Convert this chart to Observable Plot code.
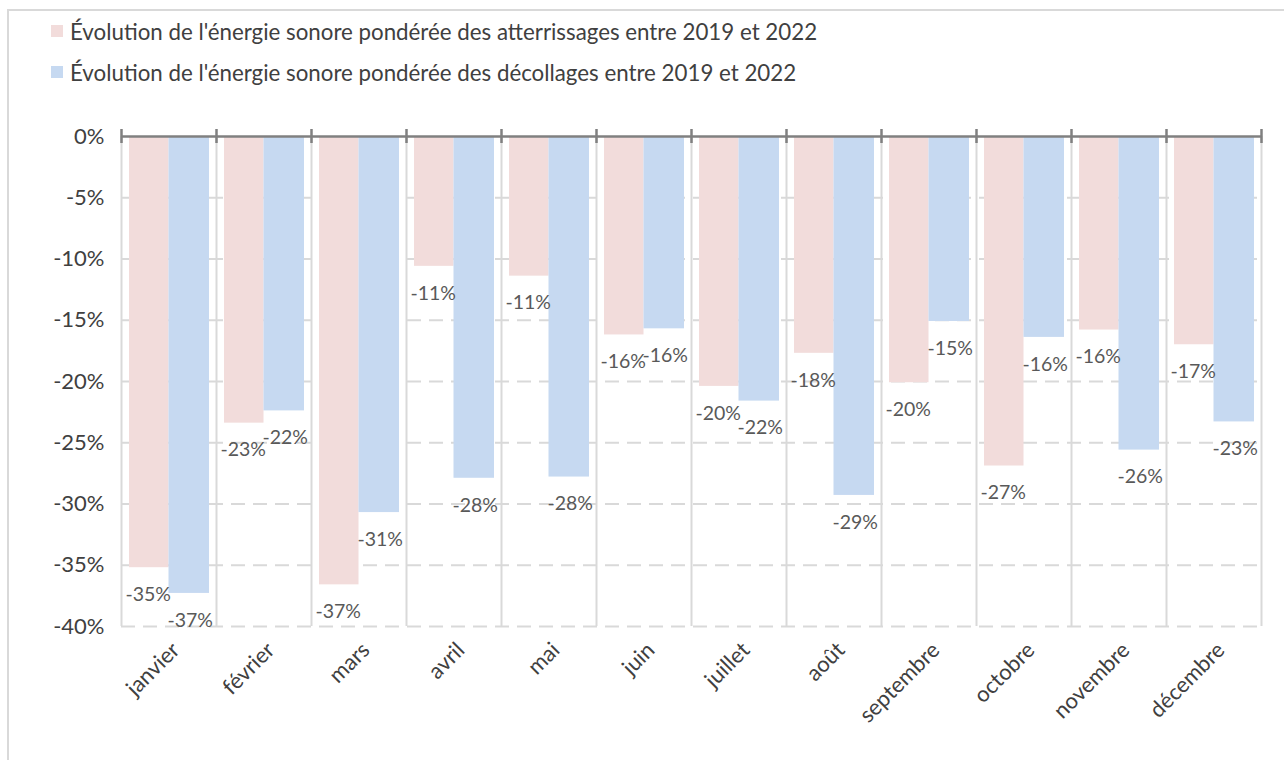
<!DOCTYPE html>
<html lang="fr">
<head>
<meta charset="utf-8">
<script src="https://cdn.jsdelivr.net/npm/d3@7"></script>
<script src="https://cdn.jsdelivr.net/npm/@observablehq/plot@0.6"></script>
<style>
  html, body { margin: 0; padding: 0; background: #fff; }
  #chart { position: relative; width: 1284px; height: 760px; overflow: hidden; font-family: Lato, "Open Sans", sans-serif; }
  #frame { position: absolute; left: 7px; top: 9px; width: 1300px; height: 800px; border: 2px solid #d9d9d9; box-sizing: border-box; }
  #legend { position: absolute; left: 51px; top: 16px; color: #404040; font-size: 22.3px; }
  .item { display: flex; align-items: center; height: 30px; margin-bottom: 11px; white-space: nowrap; }
  .swatch { width: 12px; height: 12px; margin-right: 7px; flex: none; }
  #plot { position: absolute; left: 0; top: 100px; }
</style>
</head>
<body>
<div id="chart">
  <div id="frame"></div>
  <div id="legend"></div>
  <div id="plot"></div>
</div>
<script>
// Months (x categories)
const months = ["janvier", "février", "mars", "avril", "mai", "juin",
                "juillet", "août", "septembre", "octobre", "novembre", "décembre"];

// Series names
const seriesNames = [
  "Évolution de l'énergie sonore pondérée des atterrissages entre 2019 et 2022",
  "Évolution de l'énergie sonore pondérée des décollages entre 2019 et 2022"
];

// Change in weighted noise energy, % (2019 → 2022)
const atterrissages = [-35.2, -23.4, -36.6, -10.6, -11.4, -16.2, -20.4, -17.7, -20.1, -26.9, -15.8, -17.0];
const decollages    = [-37.3, -22.4, -30.7, -27.9, -27.8, -15.7, -21.6, -29.3, -15.1, -16.4, -25.6, -23.3];

// Y axis ticks
const yTicks = [0, -5, -10, -15, -20, -25, -30, -35, -40];

const colors = ["#F2DCDB", "#C6D9F1"];

// Long table: one row per bar
const rows = [];
months.forEach((m, i) => {
  rows.push({month: m, i, s: 0, value: atterrissages[i]});
  rows.push({month: m, i, s: 1, value: decollages[i]});
});
const pink = rows.filter(d => d.s === 0);
const blue = rows.filter(d => d.s === 1);

const boundaries = d3.range(months.length + 1);
const fmt = v => Math.round(v) + "%";

// Legend
const legend = d3.select("#legend");
seriesNames.forEach((name, k) => {
  const item = legend.append("div").attr("class", "item");
  item.append("div").attr("class", "swatch").style("background", colors[k]);
  item.append("span").text(name);
});

const chart = Plot.plot({
  width: 1284,
  height: 660,
  marginTop: 36,
  marginBottom: 134,
  marginLeft: 121,
  marginRight: 23,
  style: {fontFamily: "Lato, 'Open Sans', sans-serif", background: "transparent"},
  x: {type: "linear", domain: [0, months.length]},
  y: {domain: [-40, 0]},
  marks: [
    // dashed horizontal gridlines
    Plot.ruleY(yTicks.filter(t => t !== 0), {stroke: "#d9d9d9", strokeWidth: 2, strokeDasharray: "14,8"}),
    // solid vertical separators between months
    Plot.ruleX(boundaries, {y1: -40, y2: 0, stroke: "#d9d9d9", strokeWidth: 2}),
    // bars
    Plot.rectY(pink, {x1: d => d.i, x2: d => d.i + 0.5, y1: 0, y2: "value", fill: colors[0], insetLeft: 8}),
    Plot.rectY(blue, {x1: d => d.i + 0.5, x2: d => d.i + 1, y1: 0, y2: "value", fill: colors[1], insetRight: 7}),
    // zero line with tick marks
    Plot.ruleY([0], {stroke: "#808080", strokeWidth: 2.5}),
    Plot.ruleX(boundaries, {y1: 0, y2: 0, insetTop: -7, insetBottom: -7, stroke: "#808080", strokeWidth: 2.5}),
    // value labels below bar ends
    Plot.text(pink, {x: d => d.i + 0.25, y: "value", text: d => fmt(d.value), dx: 3, dy: 27, fill: "#595959", fontSize: 19.5}),
    Plot.text(blue, {x: d => d.i + 0.75, y: "value", text: d => fmt(d.value), dx: -2.5, dy: 27, fill: "#595959", fontSize: 19.5}),
    // axes
    Plot.axisY({ticks: yTicks, tickFormat: d => d + "%", tickSize: 0, tickPadding: 17, fontSize: 22, color: "#404040", label: null}),
    Plot.axisX({ticks: months.map((m, i) => i + 0.5), tickFormat: t => months[Math.floor(t)],
                tickRotate: -45, tickSize: 0, tickPadding: 20, dx: 7, fontSize: 22, color: "#404040", label: null})
  ]
});
document.getElementById("plot").appendChild(chart);
</script>
</body>
</html>
